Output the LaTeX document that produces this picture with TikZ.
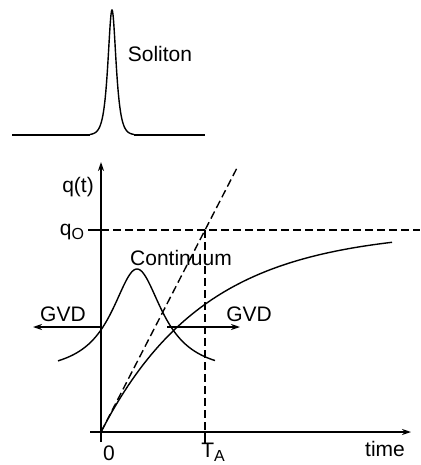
\documentclass[tikz,border=0pt]{standalone}
\usepackage{fontspec}
\setmainfont{Liberation Sans}
\usetikzlibrary{arrows.meta, positioning}

\newcommand{\lowidx}[1]{\raisebox{-0.35ex}{\fontsize{16}{18}\selectfont #1}}

\begin{document}
\begin{tikzpicture}[x=1pt, y=-1pt, line width=1.4pt,
  lbl/.style={font=\fontsize{21}{24}\selectfont, inner sep=0pt},
  axis/.style={-{Stealth[length=9pt, width=6pt]}},
  guide/.style={dash pattern=on 8pt off 4pt},
  gvd/.style={-{Stealth[length=9pt, width=6pt]}}
]
\useasboundingbox (0,0) rectangle (420,465);
% Soliton
\draw (12,135) -- (90,135);
\draw plot[domain=90:134, samples=160] (\x, {135 - 125/cosh((\x-112)/3.6)});
\draw (134,135) -- (205,135);
\node[lbl] (soliton) at (160,54) {Soliton};
% axes
\coordinate (origin) at (101,432);
\coordinate (ybot) at (101,442);
\coordinate (ytop) at (101,162);
\coordinate (xleft) at (90,432);
\coordinate (xright) at (411,432);
\draw[axis] (ybot) -- (ytop);
\draw[axis] (xleft) -- (xright);
\node[lbl] (qt) at (78,187) {q(t)};
\node[lbl] (zero) at (109,453) {0};
\node[lbl] (time) at (385,449) {time};
% saturation level and T_A
\coordinate (qtick) at (88,230);
\coordinate (qzero) at (101,230);
\coordinate (qend) at (420,230);
\coordinate (cross) at (205,230);
\coordinate (ta) at (205,432);
\coordinate (tatick) at (205,443);
\draw (qtick) -- (qzero);
\draw[guide] (qzero) -- (qend);
\draw[guide] (cross) -- (ta);
\draw (ta) -- (tatick);
\node[lbl] (qlabel) at (72,232) {q\lowidx{O}};
\node[lbl] (talabel) at (213,452) {T\lowidx{A}};
% tangent and growth
\coordinate (tanend) at (238,166);
\draw[guide] (origin) -- (tanend);
\draw plot[domain=101:392, samples=150] (\x, {432 - 202*(1-exp(-(\x-101)/104))});
% continuum pulse
\draw plot[domain=58:215, samples=150] (\x, {375 - 106/(1+((\x-137)/31)^2)});
\node[lbl] (continuum) at (181,258) {Continuum};
% GVD
\coordinate (gvdla) at (101,327);
\coordinate (gvdlb) at (33,327);
\coordinate (gvdra) at (167,327);
\coordinate (gvdrb) at (240,327);
\draw[gvd] (gvdla) -- (gvdlb);
\draw[gvd] (gvdra) -- (gvdrb);
\node[lbl] (gvdl) at (63,314) {GVD};
\node[lbl] (gvdr) at (249,314) {GVD};
\end{tikzpicture}
\end{document}
